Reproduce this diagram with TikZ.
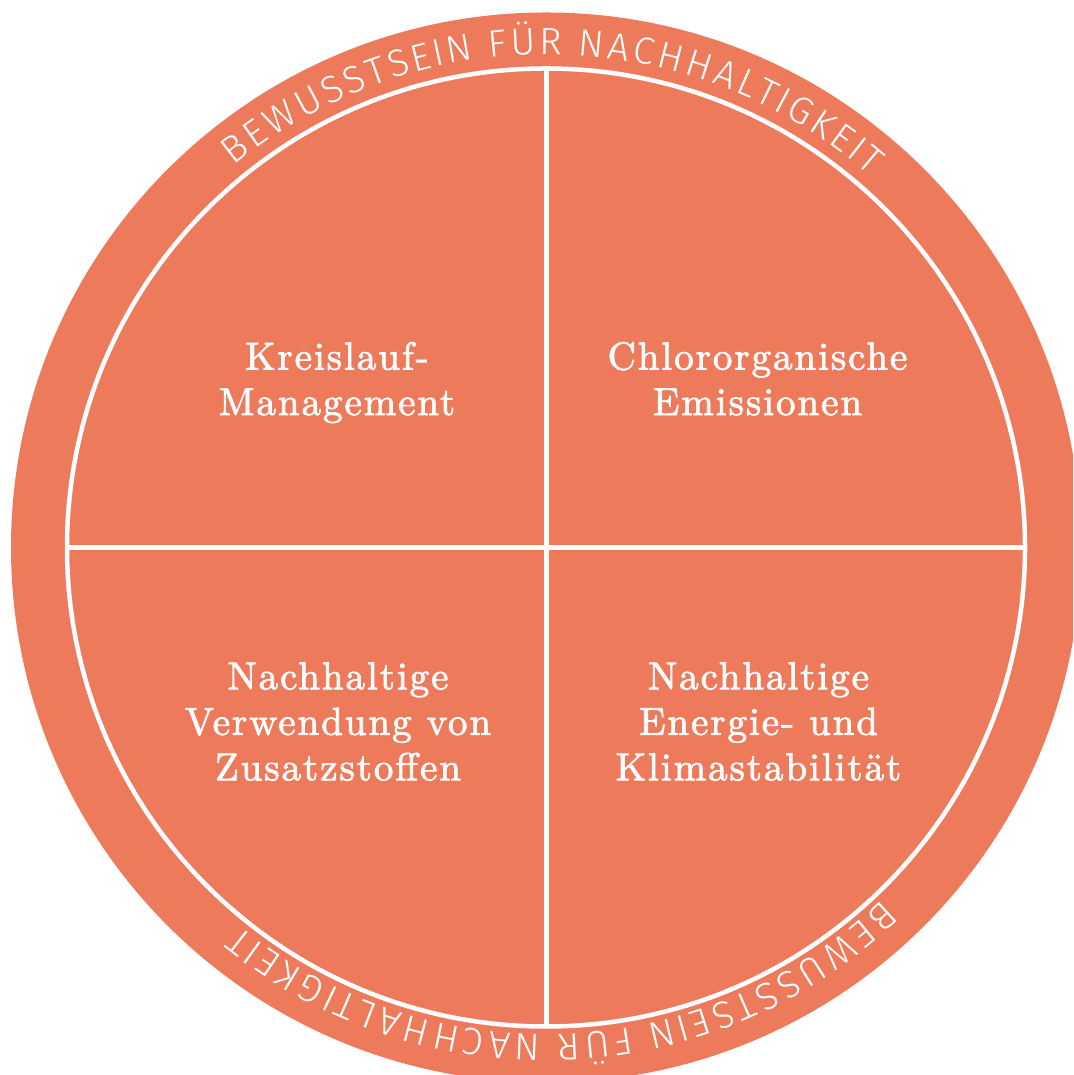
\documentclass[tikz,border=0pt]{standalone}
\usepackage{fontspec}
\usetikzlibrary{decorations.text}
\newfontfamily\bandfamily{Fira Sans Light}
\newfontfamily\quadfamily{lmroman10-regular.otf}[LetterSpace=5,FakeBold=2]
\newcommand\bandfont{\bandfamily\fontsize{38}{38}\selectfont}
\definecolor{coral}{RGB}{238,122,92}
\tikzset{
  divider/.style={draw=white, line width=5},
  quadtext/.style={text=white, align=center, inner sep=0pt,
    font=\quadfamily\fontsize{39}{45.5}\selectfont},
  bandtext/.style={decorate, decoration={text effects along path, text={#1},
    text effects/.cd, fit text to path,
    characters={text along path, inner sep=0pt, text=white, font=\bandfont}}}
}
\begin{document}
\begin{tikzpicture}[x=1pt,y=1pt]
\useasboundingbox (0,0) rectangle (1073,1075);
\clip (0,0) rectangle (1073,1075);
\coordinate (C) at (546,527.5);
\fill[coral] (C) circle[radius=535];
\draw[white, line width=4.5] (C) circle[radius=479];
\coordinate (T) at (546,1006.5);
\coordinate (B) at (546,48.5);
\coordinate (L) at (67,527.5);
\coordinate (R) at (1025,527.5);
\draw[divider] (T) -- (B);
\draw[divider] (L) -- (R);
\node[quadtext] (q1) at (337,691.8) {\strut Kreislauf-\\Management\strut};
\node[quadtext] (q2) at (757.5,691.8) {\strut Chlororganische\\Emissionen\strut};
\node[quadtext] (q3) at (338,349.3) {\strut Nachhaltige\\Verwendung von\\Zusatzstoffen\strut};
\node[quadtext] (q4) at (758.5,349.3) {\strut Nachhaltige\\Energie- und\\Klimastabilität\strut};
\path[bandtext={BEWUSSTSEIN FÜR NACHHALTIGKEIT}] ([shift={(129.3:493)}]C) arc[start angle=129.3, end angle=49, radius=493];
\path[bandtext={BEWUSSTSEIN FÜR NACHHALTIGKEIT}] ([shift={(-46.3:487)}]C) arc[start angle=-46.3, end angle=-129, radius=487];
\end{tikzpicture}
\end{document}
